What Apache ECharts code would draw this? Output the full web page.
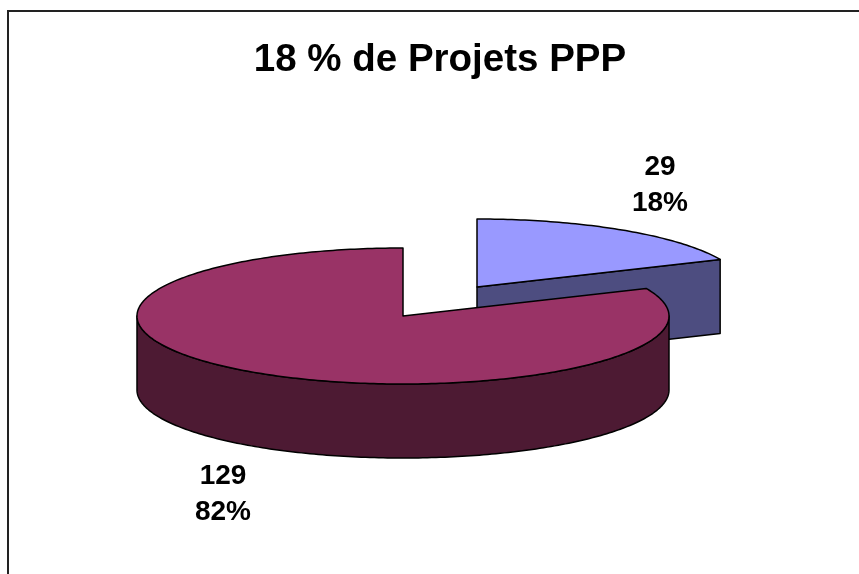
<!DOCTYPE html>
<html>
<head>
<meta charset="utf-8">
<style>
  html, body { margin: 0; padding: 0; background: #fff; }
  #chart { width: 859px; height: 574px; }
</style>
<script src="https://cdn.jsdelivr.net/npm/echarts@6/dist/echarts.min.js"></script>
</head>
<body>
<div id="chart"></div>
<script>
const categories = ['PPP', 'Autres'];
const seriesValues = [29, 129];
const percentLabels = ['18%', '82%'];
const topColors = ['#9999ff', '#993366'];
const sideColors = ['#4d4d80', '#4d1a33'];

// pie geometry, tilted so the disc is an ellipse
const RX = 266;
const RY = 68;
const DEPTH = 74;
const centers = [[477, 287], [403, 316]];
const labelPos = [[660, 185], [223, 494]];

const total = seriesValues.reduce((a, b) => a + b, 0);
const percentOf = (i) => seriesValues[i] / total;
const startFrac = [0, percentOf(0)];

// angle from 12 o'clock, clockwise
const pt = (c, a, dy) => [
    c[0] + RX * Math.sin(a),
    c[1] - RY * Math.cos(a) + (dy || 0)
];

const arcPts = (c, a0, a1, dy) => {
    const pts = [];
    const n = Math.max(2, Math.ceil(Math.abs(a1 - a0) * 60));
    for (let i = 0; i <= n; i++) {
        pts.push(pt(c, a0 + (a1 - a0) * i / n, dy));
    }
    return pts;
};

const lineStyle = { stroke: '#000', lineWidth: 1.5, lineJoin: 'round' };

const renderSlice = (params, api) => {
    const i = params.dataIndex;
    const c = centers[i];
    const a0 = startFrac[i] * Math.PI * 2;
    const a1 = a0 + percentOf(i) * Math.PI * 2;
    const children = [];
    const side = (points) => children.push({
        type: 'polygon',
        shape: { points },
        style: Object.assign({ fill: sideColors[i] }, lineStyle)
    });

    const endP = pt(c, a1);
    // only the small slice shows a cut face
    if (i === 0) {
        side([c, endP, [endP[0], endP[1] + DEPTH], [c[0], c[1] + DEPTH]]);
    }
    // visible outer wall: front half only (90deg to 270deg)
    const w0 = Math.max(a0, Math.PI / 2);
    const w1 = Math.min(a1, Math.PI * 1.5);
    if (w1 > w0) {
        side(arcPts(c, w0, w1).concat(arcPts(c, w1, w0, DEPTH)));
    }
    // top face
    children.push({
        type: 'polygon',
        shape: { points: [c].concat(arcPts(c, a0, a1)) },
        style: Object.assign({ fill: topColors[i] }, lineStyle)
    });
    return { type: 'group', children };
};

const chart = echarts.init(document.getElementById('chart'), null, { renderer: 'canvas' });
chart.setOption({
    animation: false,
    backgroundColor: '#fff',
    title: {
        text: '18 % de Projets PPP',
        left: 435,
        top: 36,
        textAlign: 'center',
        textStyle: {
            fontFamily: 'Liberation Sans',
            fontSize: 38.5,
            fontWeight: 'bold',
            color: '#000'
        }
    },
    graphic: [{
        type: 'polyline',
        silent: true,
        shape: { points: [[8, 574], [8, 11], [859, 11]] },
        style: { stroke: '#222', lineWidth: 2, fill: null }
    }],
    series: [
        {
            type: 'custom',
            coordinateSystem: 'none',
            renderItem: renderSlice,
            data: categories.map((name, i) => ({ name, value: seriesValues[i] })),
            silent: true
        },
        {
            type: 'custom',
            coordinateSystem: 'none',
            silent: true,
            z: 5,
            data: categories.map((name, i) => ({ name, value: seriesValues[i] })),
            renderItem: (params) => {
                const i = params.dataIndex;
                return {
                    type: 'text',
                    x: labelPos[i][0],
                    y: labelPos[i][1],
                    style: {
                        text: seriesValues[i] + '\n' + percentLabels[i],
                        align: 'center',
                        verticalAlign: 'middle',
                        fontFamily: 'Liberation Sans',
                        fontSize: 28,
                        fontWeight: 'bold',
                        lineHeight: 36,
                        fill: '#000'
                    }
                };
            }
        }
    ]
});
</script>
</body>
</html>
